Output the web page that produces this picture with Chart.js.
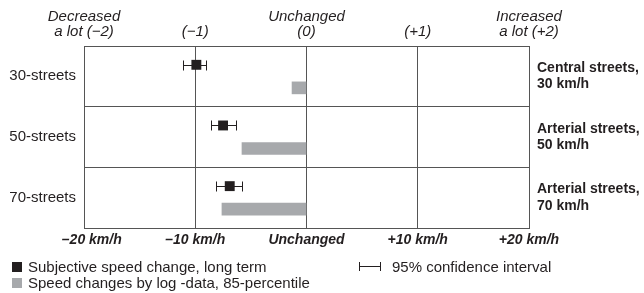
<!DOCTYPE html>
<html>
<head>
<meta charset="utf-8">
<script src="https://cdn.jsdelivr.net/npm/chart.js@4/dist/chart.umd.min.js"></script>
<style>
  html, body { margin: 0; padding: 0; background: #fff; }
  #wrap { position: relative; width: 644px; height: 293px; font-family: 'Liberation Sans', Arial, sans-serif; color: #231f20; }
  canvas { position: absolute; left: 0; top: 0; }
  .lg { position: absolute; font-size: 15px; line-height: 17px; white-space: nowrap; }
  .box { position: absolute; width: 10px; height: 10px; }
  .ci { position: absolute; width: 22px; height: 9px; border-left: 1px solid #231f20; border-right: 1px solid #231f20; box-sizing: border-box; }
  .ci:after { content: ''; position: absolute; left: 0; right: 0; top: 4px; height: 1px; background: #231f20; }
</style>
</head>
<body>
<div id="wrap">
  <canvas id="c" width="644" height="293"></canvas>
  <div class="box" style="left:12px;top:262px;background:#231f20"></div>
  <div class="lg" style="left:28px;top:258px">Subjective speed change, long term</div>
  <div class="box" style="left:12px;top:278px;background:#a7a9ac"></div>
  <div class="lg" style="left:28px;top:274px">Speed changes by log -data, 85-percentile</div>
  <div class="ci" style="left:359px;top:262px"></div>
  <div class="lg" style="left:392px;top:258px">95% confidence interval</div>
</div>
<script>
// ---- data ----
const categories = ['30-streets', '50-streets', '70-streets'];
const rightLabels = [['Central streets,', '30 km/h'], ['Arterial streets,', '50 km/h'], ['Arterial streets,', '70 km/h']];
const subjectiveChange = [-0.99, -0.75, -0.69];      // scale -2 .. +2
const ciLow = [-1.11, -0.86, -0.81];
const ciHigh = [-0.90, -0.63, -0.58];
const logSpeedChange = [-1.3, -5.8, -7.6];           // km/h, 85-percentile
const kmhTicks = ['    –20 km/h', '–10 km/h', 'Unchanged', '+10 km/h', '+20 km/h'];
const subjTicks = [['Decreased', 'a lot (−2)'], '(−1)', ['Unchanged', '(0)'], '(+1)', ['Increased', 'a lot (+2)']];

const FONT = "'Liberation Sans', Arial, sans-serif";
const TXT = '#231f20';
const GRID = '#555';

const errorBars = {
  id: 'errorBars',
  beforeDatasetsDraw(chart) {
    const xs = chart.scales.x2, ys = chart.scales.y, ctx = chart.ctx;
    ctx.save();
    ctx.strokeStyle = '#231f20';
    ctx.lineWidth = 1;
    subjectiveChange.forEach((v, i) => {
      const y = Math.round(ys.getPixelForValue(i + 0.31)) + 0.5;
      const x1 = Math.round(xs.getPixelForValue(ciLow[i])) + 0.5;
      const x2 = Math.round(xs.getPixelForValue(ciHigh[i])) + 0.5;
      ctx.beginPath();
      ctx.moveTo(x1, y); ctx.lineTo(x2, y);
      ctx.moveTo(x1, y - 5); ctx.lineTo(x1, y + 5);
      ctx.moveTo(x2, y - 5); ctx.lineTo(x2, y + 5);
      ctx.stroke();
    });
    ctx.restore();
  }
};

new Chart(document.getElementById('c'), {
  type: 'bar',
  data: {
    datasets: [
      {
        type: 'scatter',
        label: 'Subjective speed change, long term',
        xAxisID: 'x2', yAxisID: 'y',
        data: subjectiveChange.map((v, i) => ({ x: v, y: i + 0.31 })),
        pointStyle: 'rect', pointRadius: 7, pointHoverRadius: 7,
        backgroundColor: '#231f20', borderWidth: 0, order: 0
      },
      {
        type: 'bar',
        label: 'Speed changes by log -data, 85-percentile',
        indexAxis: 'y',
        xAxisID: 'x', yAxisID: 'y',
        data: logSpeedChange.map((v, i) => ({ x: [0, v], y: i + 0.69 })),
        backgroundColor: '#a7a9ac', borderWidth: 0, barThickness: 12, order: 1
      }
    ]
  },
  options: {
    responsive: false,
    animation: false,
    indexAxis: 'y',
    layout: { padding: 0 },
    plugins: { legend: { display: false }, tooltip: { enabled: false } },
    scales: {
      x: {
        type: 'linear', position: 'bottom', min: -20, max: 20, offset: false,
        afterFit: s => { s.height = 65; },
        ticks: { stepSize: 10, padding: 4, color: TXT, font: { family: FONT, size: 14, style: 'italic', weight: 'bold' },
          callback: (v, i) => kmhTicks[i] },
        grid: { color: GRID, drawTicks: false, lineWidth: 1, offset: false },
        border: { display: true, color: GRID }
      },
      x2: {
        type: 'linear', position: 'top', min: -2, max: 2, offset: false,
        afterFit: s => { s.height = 46; },
        ticks: { stepSize: 1, padding: 6, color: TXT, font: { family: FONT, size: 15, style: 'italic', lineHeight: 1.05 },
          callback: (v, i) => subjTicks[i] },
        grid: { display: false, drawTicks: false, offset: false },
        border: { display: true, color: GRID }
      },
      y: {
        type: 'linear', position: 'left', min: 0, max: 3, reverse: true, offset: false,
        afterFit: s => { s.width = 84; },
        ticks: { stepSize: 0.5, autoSkip: false, padding: 8, color: TXT, font: { family: FONT, size: 15 },
          callback: v => (v % 1 !== 0 ? categories[Math.floor(v)] : '') },
        grid: { offset: false, drawTicks: false, color: c => (c.tick && c.tick.value % 1 === 0 ? GRID : 'rgba(0,0,0,0)') },
        border: { display: true, color: GRID }
      },
      y2: {
        type: 'linear', position: 'right', min: 0, max: 3, reverse: true, offset: false,
        afterFit: s => { s.width = 115; },
        ticks: { stepSize: 0.5, autoSkip: false, padding: 8, color: TXT, font: { family: FONT, size: 14, weight: 'bold', lineHeight: 1.15 },
          callback: v => (v % 1 !== 0 ? rightLabels[Math.floor(v)] : '') },
        grid: { display: false, drawTicks: false, offset: false },
        border: { display: true, color: GRID }
      }
    }
  },
  plugins: [errorBars]
});
</script>
</body>
</html>
